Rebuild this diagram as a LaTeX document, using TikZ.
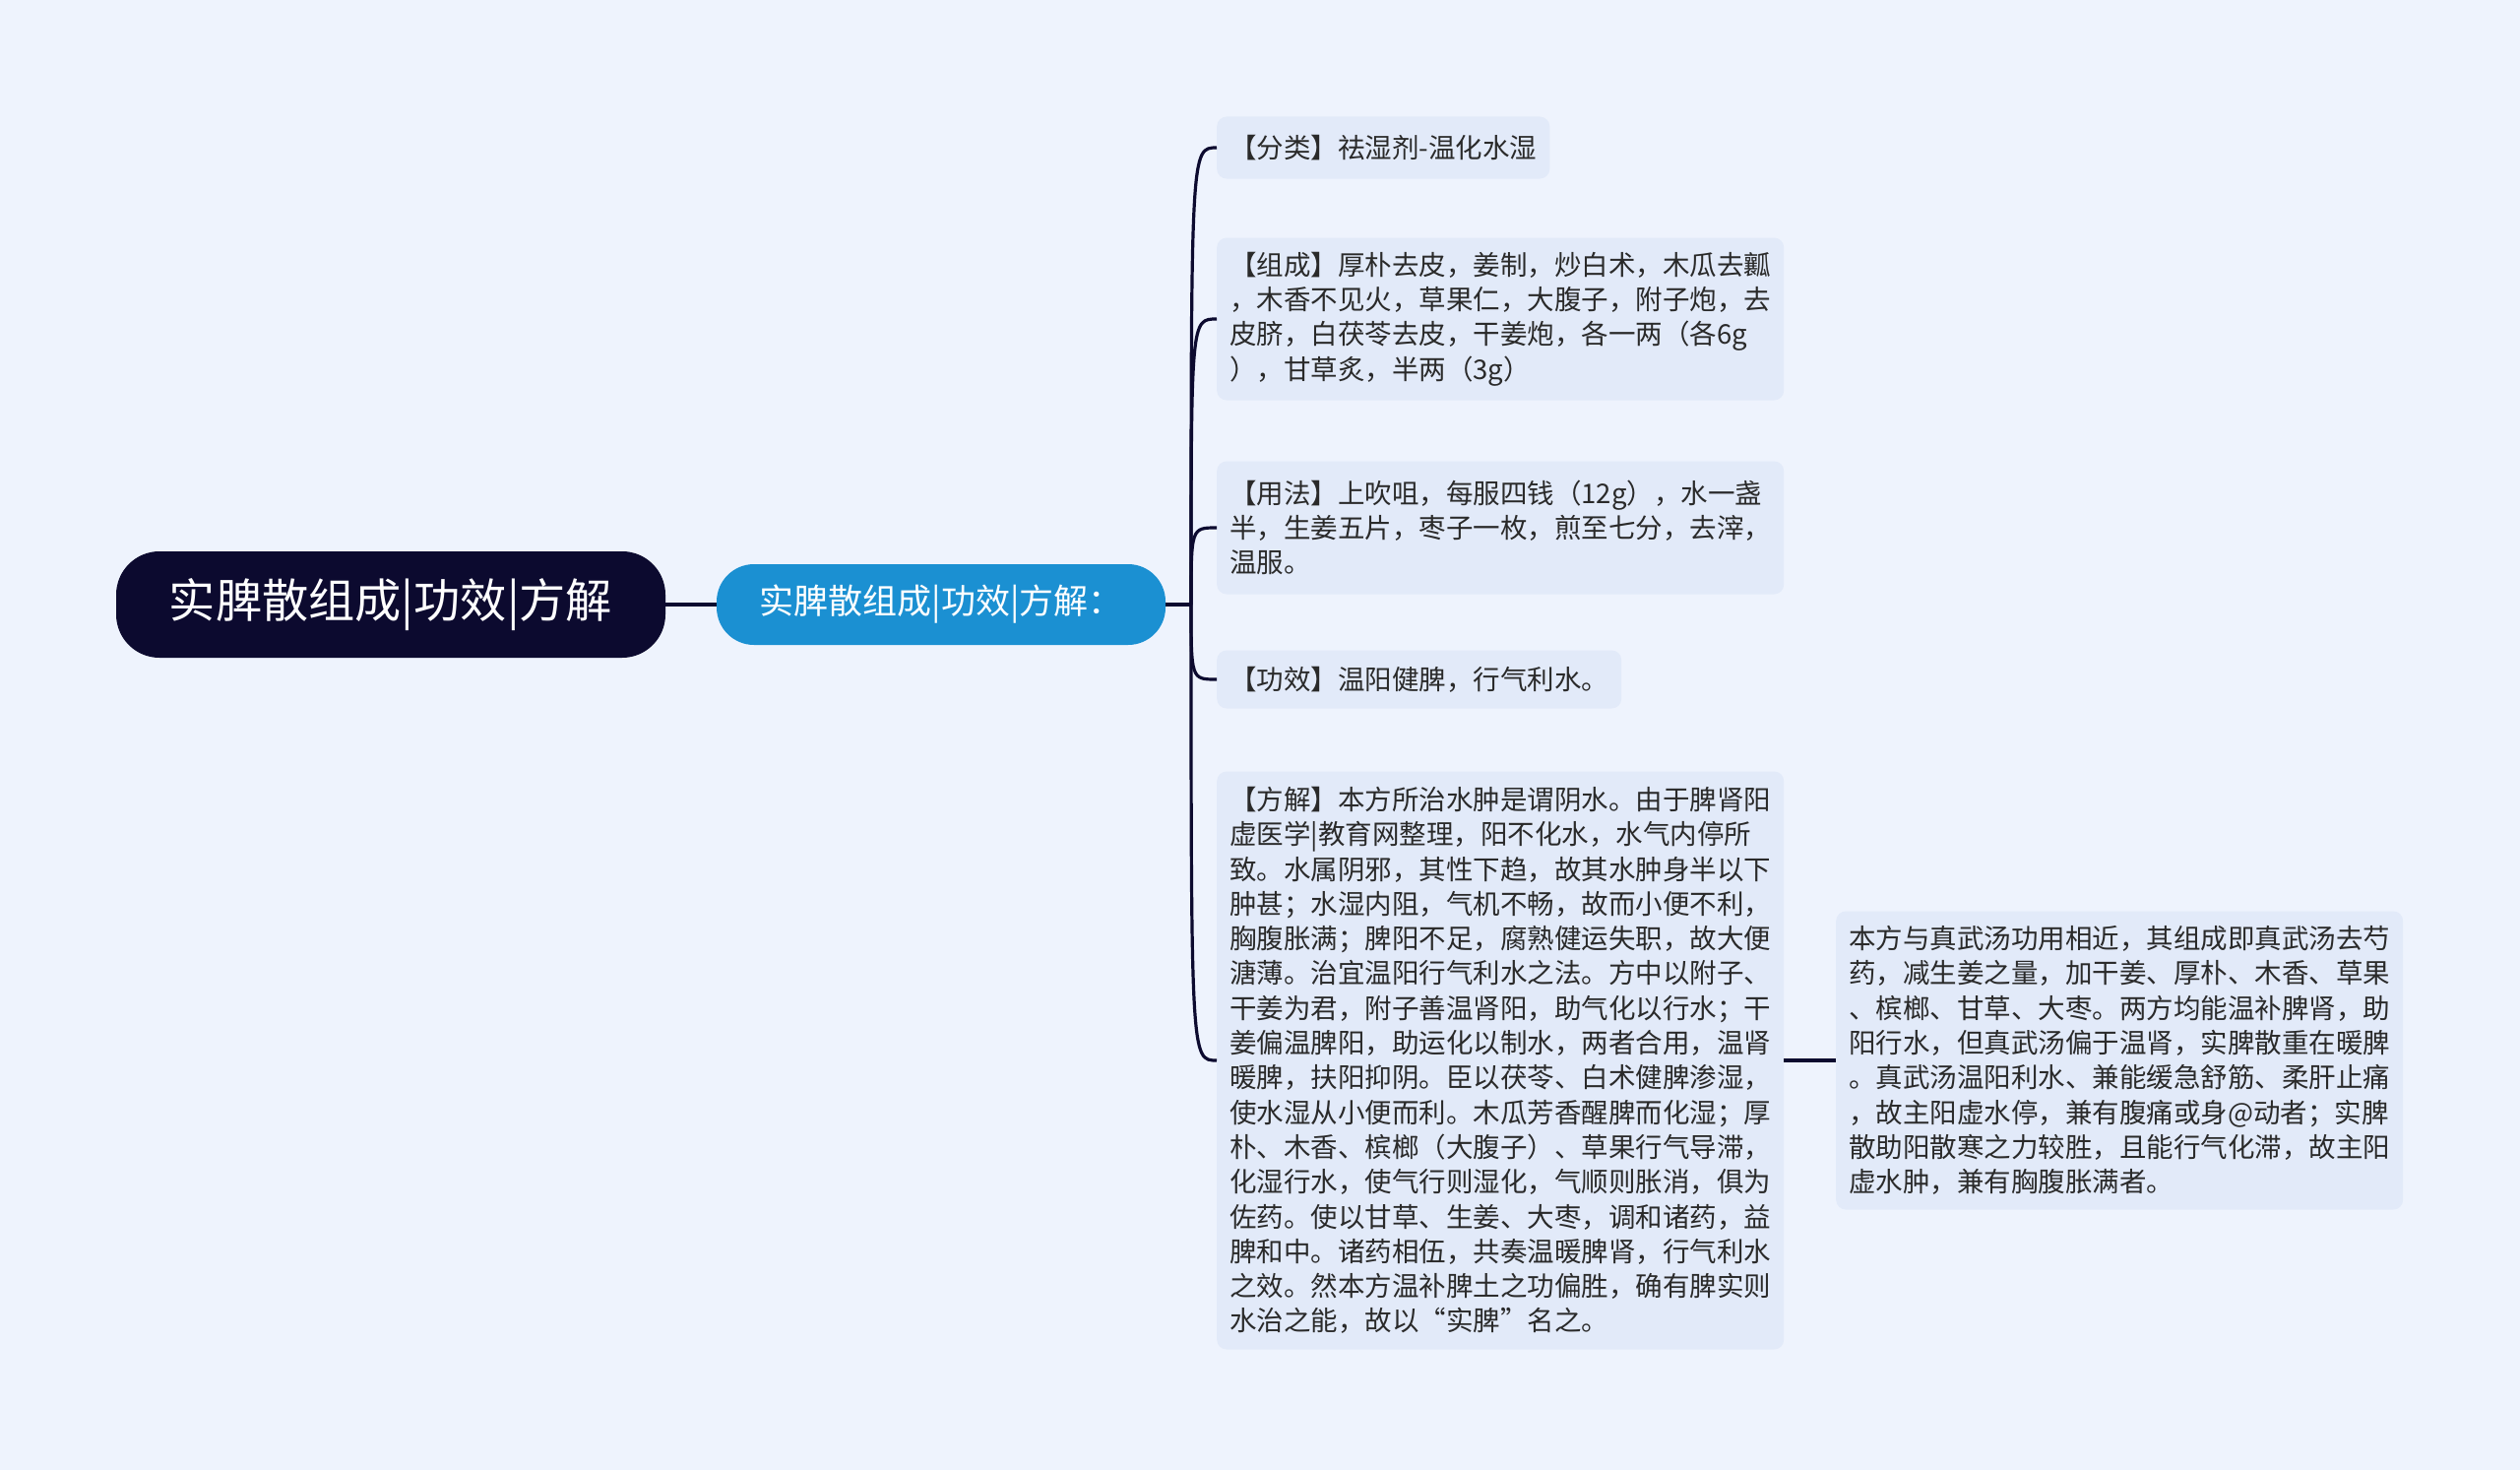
\documentclass[tikz,border=0pt]{standalone}
\usepackage{fontspec}
\setmainfont{Noto Sans CJK SC}
\definecolor{bgcol}{HTML}{EEF3FD}
\definecolor{leafbg}{HTML}{E2EAF9}
\definecolor{leaftext}{HTML}{2A2A2A}
\definecolor{rootbg}{HTML}{0C0A2F}
\definecolor{subbg}{HTML}{1B90D2}
\definecolor{linecol}{HTML}{0C0A2F}

\begin{document}
\begin{tikzpicture}[x=1pt,y=-1pt,
  root/.style={fill=rootbg,text=white,rounded corners=44pt,font=\fontsize{47.2}{52}\selectfont},
  sub/.style={fill=subbg,text=white,rounded corners=38pt,font=\fontsize{35}{40}\selectfont},
  leaf/.style={fill=leafbg,text=leaftext,rounded corners=10pt,anchor=west,align=left,
    inner xsep=13pt,inner ysep=8pt,font=\fontsize{27.5}{35.3}\selectfont},
  link/.style={draw=linecol,line width=3.2pt}]
\fill[bgcol] (0,0) rectangle (2560,1493);
\useasboundingbox (0,0) rectangle (2560,1493);

\node[root,minimum width=558pt,minimum height=108pt] (root) at (397,614) {实脾散组成|功效|方解};
\node[sub,minimum width=456pt,minimum height=82pt] (sub) at (956,614) {实脾散组成|功效|方解：};
\coordinate (hub) at (1210,614);

\node[leaf,minimum height=63pt] (l1) at (1236,150) {【分类】祛湿剂-温化水湿};
\node[leaf,text width=550pt,minimum height=165pt] (l2) at (1236,324) {【组成】厚朴去皮，姜制，炒白术，木瓜去瓤\\，木香不见火，草果仁，大腹子，附子炮，去\\皮脐，白茯苓去皮，干姜炮，各一两（各6g\\），甘草炙，半两（3g）};
\node[leaf,text width=550pt,minimum height=135pt] (l3) at (1236,536) {【用法】上吹咀，每服四钱（12g），水一盏\\半，生姜五片，枣子一枚，煎至七分，去滓，\\温服。};
\node[leaf,minimum height=59pt] (l4) at (1236,690) {【功效】温阳健脾，行气利水。};
\node[leaf,text width=550pt,minimum height=587pt] (l5) at (1236,1077) {【方解】本方所治水肿是谓阴水。由于脾肾阳\\虚医学|教育网整理，阳不化水，水气内停所\\致。水属阴邪，其性下趋，故其水肿身半以下\\肿甚；水湿内阻，气机不畅，故而小便不利，\\胸腹胀满；脾阳不足，腐熟健运失职，故大便\\溏薄。治宜温阳行气利水之法。方中以附子、\\干姜为君，附子善温肾阳，助气化以行水；干\\姜偏温脾阳，助运化以制水，两者合用，温肾\\暖脾，扶阳抑阴。臣以茯苓、白术健脾渗湿，\\使水湿从小便而利。木瓜芳香醒脾而化湿；厚\\朴、木香、槟榔（大腹子）、草果行气导滞，\\化湿行水，使气行则湿化，气顺则胀消，俱为\\佐药。使以甘草、生姜、大枣，调和诸药，益\\脾和中。诸药相伍，共奏温暖脾肾，行气利水\\之效。然本方温补脾土之功偏胜，确有脾实则\\水治之能，故以“实脾”名之。};
\node[leaf,text width=550pt,minimum height=303pt] (l6) at (1865,1077) {本方与真武汤功用相近，其组成即真武汤去芍\\药，减生姜之量，加干姜、厚朴、木香、草果\\、槟榔、甘草、大枣。两方均能温补脾肾，助\\阳行水，但真武汤偏于温肾，实脾散重在暖脾\\。真武汤温阳利水、兼能缓急舒筋、柔肝止痛\\，故主阳虚水停，兼有腹痛或身@动者；实脾\\散助阳散寒之力较胜，且能行气化滞，故主阳\\虚水肿，兼有胸腹胀满者。};

\draw[link] (root) -- (sub);
\draw[link] (sub) -- (hub);
\foreach \n in {l1,l2,l3,l4,l5}
  \draw[link] (hub) .. controls (hub |- \n.west) .. (\n.west);
\draw[link] (l5) -- (l6);
\end{tikzpicture}
\end{document}
